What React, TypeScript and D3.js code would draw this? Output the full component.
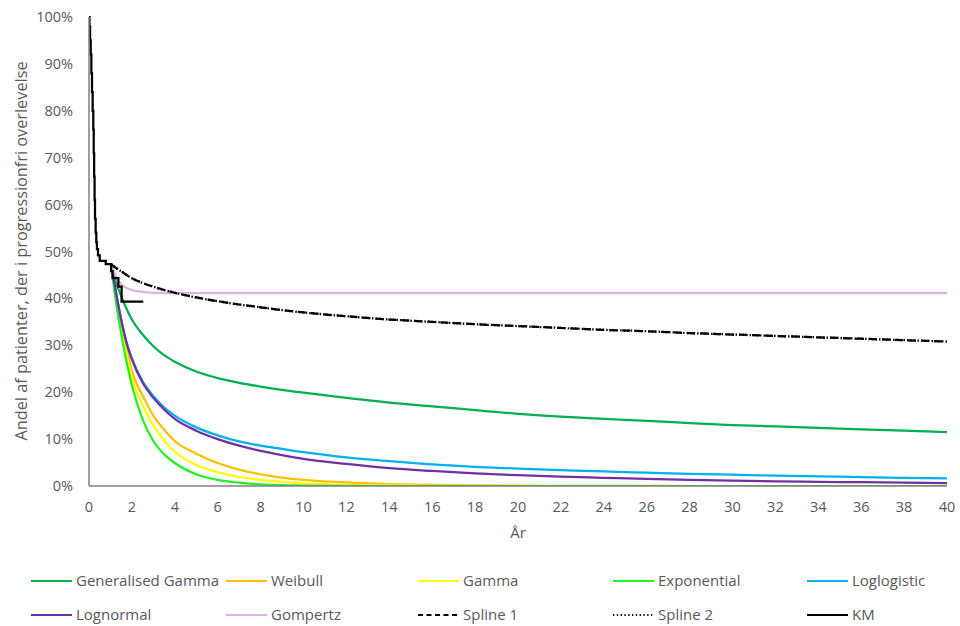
import React from "react";
import * as d3 from "d3";

const W = 960;
const H = 626;
const M = { left: 89, right: 947, top: 17, bottom: 486 };

const xTicks = d3.range(0, 41, 2);
const yTicks = d3.range(0, 101, 10);

const modelTimes = [1.03, 1.25, 1.5, 1.75, 2, 2.5, 3, 3.5, 4, 5, 6, 7, 8, 9, 10, 12, 14, 16, 18, 20, 22, 24, 26, 28, 30, 32, 34, 36, 38, 40];

const genGamma = [47.3, 43.5, 40.5, 37.8, 35.5, 32.3, 29.8, 27.9, 26.5, 24.4, 23, 22, 21.2, 20.5, 19.9, 18.8, 17.8, 17.0, 16.2, 15.4, 14.8, 14.3, 13.9, 13.4, 13.0, 12.7, 12.4, 12.1, 11.8, 11.5];
const weibull = [47.3, 41, 35, 29.5, 24.5, 19.3, 15.0, 12.0, 9.6, 6.9, 4.9, 3.5, 2.5, 1.8, 1.3, 0.75, 0.42, 0.23, 0.13, 0.07, 0.04, 0.02, 0.01, 0, 0, 0, 0, 0, 0, 0];
const gamma = [47.3, 40, 33.5, 28, 23, 17.2, 12.9, 9.7, 7.3, 4.5, 2.95, 1.93, 1.3, 0.87, 0.58, 0.26, 0.12, 0.05, 0.02, 0.01, 0, 0, 0, 0, 0, 0, 0, 0, 0, 0];
const exponential = [47.3, 39.5, 32.5, 26.5, 21.5, 14.2, 9.6, 6.8, 4.9, 2.5, 1.3, 0.7, 0.35, 0.18, 0.1, 0.03, 0, 0, 0, 0, 0, 0, 0, 0, 0, 0, 0, 0, 0, 0];
const loglogistic = [47.3, 41.5, 35.5, 30.7, 27.2, 22.3, 19.2, 16.8, 15.0, 12.5, 10.8, 9.5, 8.6, 7.9, 7.2, 6.1, 5.3, 4.6, 4.1, 3.7, 3.4, 3.1, 2.85, 2.6, 2.4, 2.2, 2.05, 1.9, 1.75, 1.6];
const lognormal = [47.3, 41.5, 35.5, 30.5, 27, 22, 18.8, 16.3, 14.3, 11.8, 10.0, 8.6, 7.5, 6.6, 5.8, 4.7, 3.8, 3.2, 2.7, 2.3, 2.0, 1.75, 1.5, 1.3, 1.15, 1.0, 0.9, 0.8, 0.7, 0.6];
const gompertz = [47.3, 44.8, 43.0, 42.2, 41.8, 41.4, 41.2, 41.15, 41.1, 41.1, 41.1, 41.1, 41.1, 41.1, 41.1, 41.1, 41.1, 41.1, 41.1, 41.1, 41.1, 41.1, 41.1, 41.1, 41.1, 41.1, 41.1, 41.1, 41.1, 41.1];
const spline1 = [47.3, 46.5, 45.8, 45.0, 44.3, 43.3, 42.5, 41.8, 41.2, 40.2, 39.4, 38.7, 38.1, 37.5, 37.0, 36.2, 35.5, 35.0, 34.5, 34.1, 33.7, 33.3, 33.0, 32.6, 32.3, 32.0, 31.7, 31.4, 31.1, 30.8];
const spline2 = [47.3, 46.5, 45.8, 45.0, 44.3, 43.3, 42.5, 41.8, 41.2, 40.2, 39.4, 38.7, 38.1, 37.5, 37.0, 36.2, 35.5, 35.0, 34.5, 34.1, 33.7, 33.3, 33.0, 32.6, 32.3, 32.0, 31.7, 31.4, 31.1, 30.8];

const kmTimes = [0, 0.02, 0.05, 0.08, 0.11, 0.14, 0.17, 0.2, 0.22, 0.24, 0.26, 0.28, 0.31, 0.34, 0.37, 0.42, 0.5, 0.78, 1.03, 1.1, 1.37, 1.52, 2.53];
const kmSurv = [100, 98, 95, 92, 88, 84, 80, 76, 71, 66, 61, 57, 54, 52, 50.5, 49.2, 48.0, 47.3, 45.8, 44.3, 42.5, 39.3, 39.3];

const seriesNames = ["Generalised Gamma", "Weibull", "Gamma", "Exponential", "Loglogistic", "Lognormal", "Gompertz", "Spline 1", "Spline 2", "KM"];

type S = { name: string; color: string; dash?: string; legendDash?: string; values?: number[]; step?: boolean };

const series: S[] = [
  { name: seriesNames[0], color: "#00B050", values: genGamma },
  { name: seriesNames[1], color: "#FFC000", values: weibull },
  { name: seriesNames[2], color: "#FFFF00", values: gamma },
  { name: seriesNames[3], color: "#22F022", values: exponential },
  { name: seriesNames[4], color: "#00B0F0", values: loglogistic },
  { name: seriesNames[5], color: "#7030A0", values: lognormal },
  { name: seriesNames[6], color: "#DDB2E4", values: gompertz },
  { name: seriesNames[7], color: "#000000", dash: "8,5", legendDash: "5,3.5", values: spline1 },
  { name: seriesNames[8], color: "#000000", dash: "1.5,2", legendDash: "1.3,2.5", values: spline2 },
  { name: seriesNames[9], color: "#000000", step: true },
];

const FONT = "'Open Sans', 'Liberation Sans', Arial, sans-serif";
const TXT = "#595959";

export default function App() {
  const x = d3.scaleLinear().domain([0, 40]).range([M.left, M.right]);
  const y = d3.scaleLinear().domain([0, 100]).range([M.bottom, M.top]);

  const line = d3
    .line<[number, number]>()
    .x((d) => x(d[0]))
    .y((d) => y(d[1]))
    .curve(d3.curveMonotoneX);
  const stepLine = d3
    .line<[number, number]>()
    .x((d) => x(d[0]))
    .y((d) => y(d[1]))
    .curve(d3.curveStepAfter);

  const legendCols = [31, 226, 418, 613, 807];
  const legendRows = [581, 615];

  return (
    <div style={{ position: "absolute", left: 0, top: 0 }}>
      <svg width={W} height={H} style={{ display: "block", background: "#fff" }} fontFamily={FONT}>
        <defs>
          <clipPath id="clip">
            <rect x={M.left} y={M.top - 2} width={M.right - M.left + 2} height={M.bottom - M.top + 2} />
          </clipPath>
        </defs>
        <rect width={W} height={H} fill="#fff" />
        <g clipPath="url(#clip)">
          {series.map((s) => {
            if (s.step) {
              const pts = kmTimes.map((t, i) => [t, kmSurv[i]] as [number, number]);
              return <path key={s.name} d={stepLine(pts) || ""} fill="none" stroke={s.color} strokeWidth={2.25} />;
            }
            const pts = modelTimes.map((t, i) => [t, s.values![i]] as [number, number]);
            return (
              <path
                key={s.name}
                d={line(pts) || ""}
                fill="none"
                stroke={s.color}
                strokeWidth={2.25}
                strokeDasharray={s.dash}
              />
            );
          })}
        </g>
        <line x1={M.left} x2={M.left} y1={M.top} y2={M.bottom} stroke="#7F7F7F" strokeWidth={1.5} />
        <line x1={M.left} x2={M.right} y1={M.bottom} y2={M.bottom} stroke="#7F7F7F" strokeWidth={1.5} />
        {yTicks.map((t) => (
          <text key={t} x={73} y={y(t) + 5} textAnchor="end" fontSize={14.5} fill={TXT}>
            {t}%
          </text>
        ))}
        {xTicks.map((t) => (
          <text key={t} x={x(t)} y={512} textAnchor="middle" fontSize={14.5} fill={TXT}>
            {t}
          </text>
        ))}
        <text x={x(20)} y={538} textAnchor="middle" fontSize={15} fill={TXT}>
          År
        </text>
        <text
          transform={`translate(27, 251) rotate(-90)`}
          textAnchor="middle"
          fontSize={16.3}
          fill={TXT}
        >
          Andel af patienter, der i progressionfri overlevelse
        </text>
        {series.map((s, i) => {
          const cx = legendCols[i % 5];
          const cy = legendRows[Math.floor(i / 5)];
          return (
            <g key={s.name}>
              <line
                x1={cx}
                x2={cx + 41}
                y1={cy}
                y2={cy}
                stroke={s.color}
                strokeWidth={2}
                strokeDasharray={s.legendDash}
              />
              <text x={cx + 45} y={cy + 5} fontSize={15} fill={TXT}>
                {s.name}
              </text>
            </g>
          );
        })}
      </svg>
    </div>
  );
}
